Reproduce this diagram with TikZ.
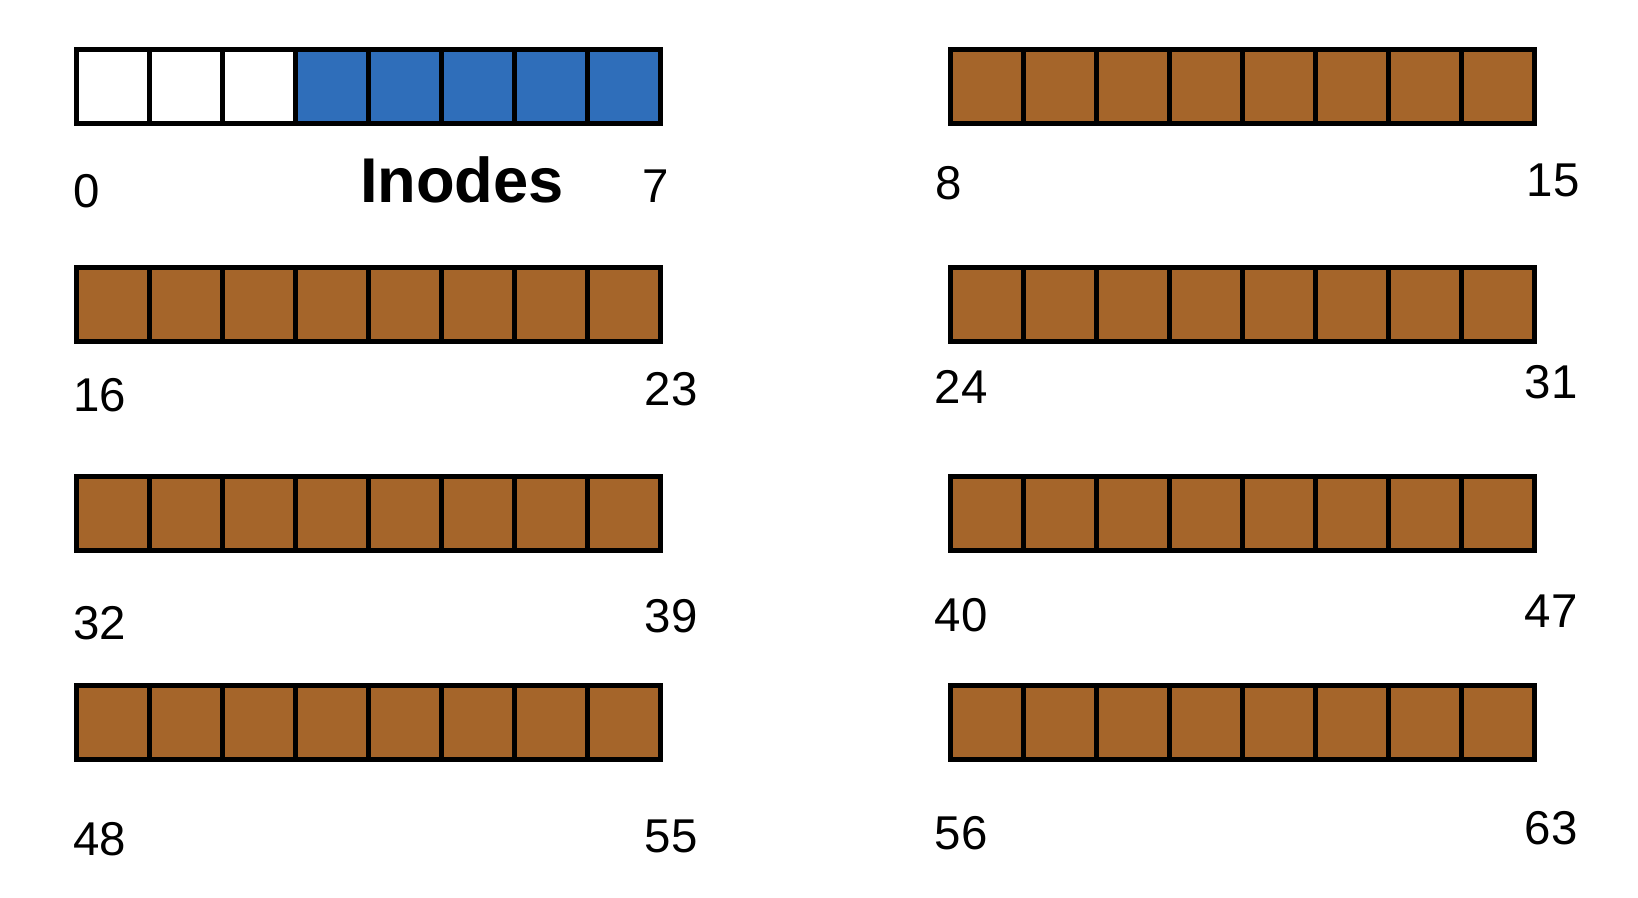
\documentclass[tikz,border=0pt]{standalone}
\usepackage{fontspec}
\setmainfont{Liberation Sans}
\usetikzlibrary{positioning}
\definecolor{inodeblue}{HTML}{2F6EBA}
\definecolor{blockbrown}{HTML}{A5652A}
\begin{document}
\begin{tikzpicture}[x=0.02cm, y=-0.02cm,
  cell/.style={rectangle, draw, line width=2.9pt, fill=blockbrown,
    minimum width=1.46cm, minimum height=1.48cm, inner sep=0pt, anchor=north west},
  num/.style={font=\fontsize{27}{30}\selectfont},
  ttl/.style={font=\fontsize{36}{40}\selectfont\bfseries}]
  \useasboundingbox (0,0) rectangle (1638,898);
  \foreach \r/\y in {0/47,1/265,2/474,3/683}
    \foreach \h/\x in {0/74,1/948}
      \foreach \i in {0,...,7} {
        \pgfmathtruncatemacro{\n}{16*\r+8*\h+\i}
        \ifnum\n<3 \def\clr{white}\else\ifnum\n<8 \def\clr{inodeblue}\else\def\clr{blockbrown}\fi\fi
        \node[cell, fill=\clr] (b\n) at (\x+73*\i,\y) {};
      }

  \node[ttl] (inodes) at (462,180) {Inodes};

  \node[num] (n0) at (87,191) {0};
  \node[num] (n7) at (656,186) {7};
  \node[num] (n8) at (949,183) {8};
  \node[num] (n15) at (1553,180) {15};
  \node[num] (n16) at (100,395) {16};
  \node[num] (n23) at (671,389) {23};
  \node[num] (n24) at (961,387) {24};
  \node[num] (n31) at (1551,382) {31};
  \node[num] (n32) at (100,623) {32};
  \node[num] (n39) at (671,616) {39};
  \node[num] (n40) at (961,615) {40};
  \node[num] (n47) at (1551,611) {47};
  \node[num] (n48) at (100,839) {48};
  \node[num] (n55) at (671,836) {55};
  \node[num] (n56) at (961,833) {56};
  \node[num] (n63) at (1551,828) {63};
\end{tikzpicture}
\end{document}
